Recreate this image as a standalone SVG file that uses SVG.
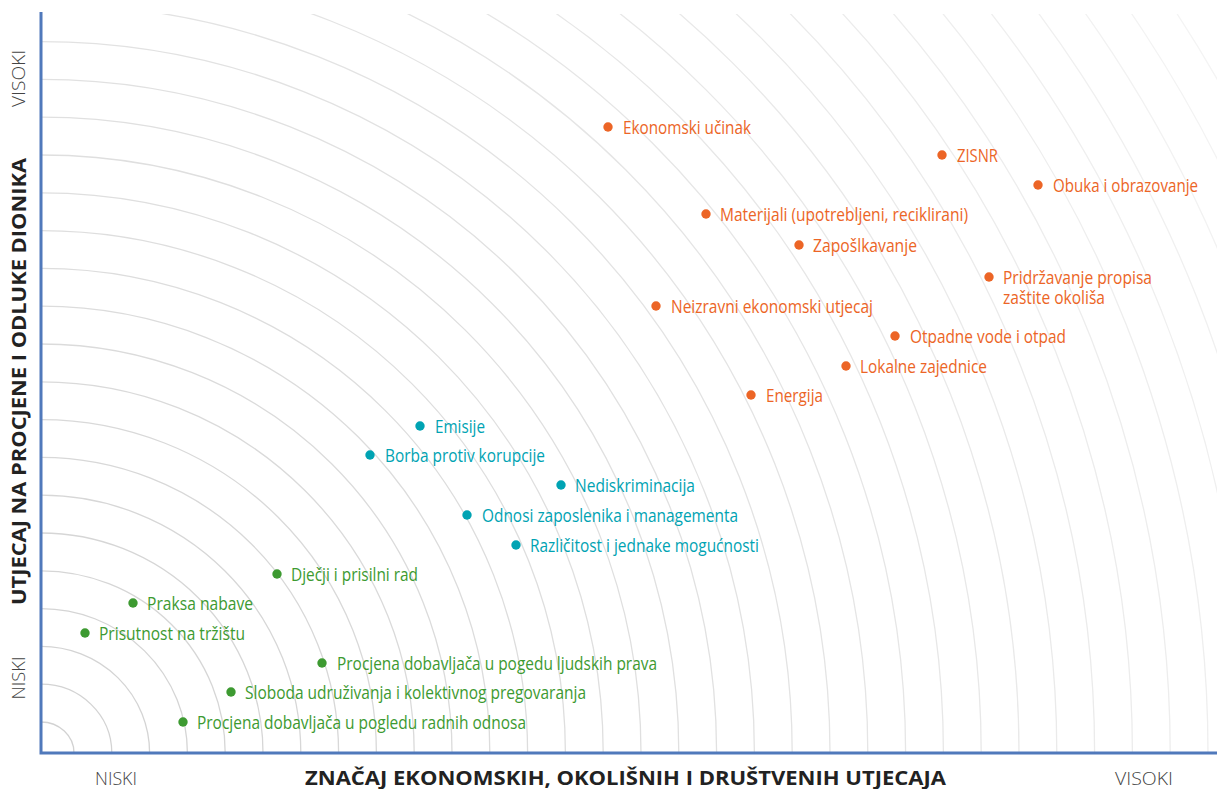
<svg xmlns="http://www.w3.org/2000/svg" width="1217" height="789" viewBox="0 0 1217 789">
<style>
.arc{fill:none;stroke-width:1.3}
.lbl{font-family:"Open Sans","Liberation Sans",sans-serif;font-size:18px}
.o{fill:#ec6526}
.t{fill:#00a3b3}
.g{fill:#3d9a31}
.ax{font-family:"Open Sans","Liberation Sans",sans-serif;font-size:18px;font-weight:300;fill:#444}
.ttl{font-family:"Open Sans","Liberation Sans",sans-serif;font-size:20px;font-weight:700;fill:#222}
.axis{stroke:#5079bb;stroke-width:3;fill:none}
</style>
<defs>
<clipPath id="plot"><rect x="41" y="14" width="1176" height="739"/></clipPath>
</defs>
<rect width="1217" height="789" fill="#fff"/>
<g id="arcs" clip-path="url(#plot)">
<path class="arc" stroke="#d2d2d2" d="M74 753A33 31 0 0 0 41 722"/>
<path class="arc" stroke="#d3d3d3" d="M111.8 753A70.8 68.8 0 0 0 41 684.2"/>
<path class="arc" stroke="#d4d4d4" d="M149.6 753A108.6 106.6 0 0 0 41 646.4"/>
<path class="arc" stroke="#d5d5d5" d="M187.4 753A146.4 144.4 0 0 0 41 608.6"/>
<path class="arc" stroke="#d6d6d6" d="M225.2 753A184.2 182.2 0 0 0 41 570.8"/>
<path class="arc" stroke="#d6d6d6" d="M263 753A222 220 0 0 0 41 533"/>
<path class="arc" stroke="#d7d7d7" d="M300.8 753A259.8 257.8 0 0 0 41 495.2"/>
<path class="arc" stroke="#d8d8d8" d="M338.6 753A297.6 295.6 0 0 0 41 457.4"/>
<path class="arc" stroke="#d9d9d9" d="M376.4 753A335.4 333.4 0 0 0 41 419.6"/>
<path class="arc" stroke="#dadada" d="M414.2 753A373.2 371.2 0 0 0 41 381.8"/>
<path class="arc" stroke="#dbdbdb" d="M452 753A411 409 0 0 0 41 344"/>
<path class="arc" stroke="#dcdcdc" d="M489.8 753A448.8 446.8 0 0 0 41 306.2"/>
<path class="arc" stroke="#dddddd" d="M527.6 753A486.6 484.6 0 0 0 41 268.4"/>
<path class="arc" stroke="#dedede" d="M565.4 753A524.4 522.4 0 0 0 41 230.6"/>
<path class="arc" stroke="#dfdfdf" d="M603.2 753A562.2 560.2 0 0 0 41 192.8"/>
<path class="arc" stroke="#dfdfdf" d="M641 753A600 598 0 0 0 41 155"/>
<path class="arc" stroke="#e0e0e0" d="M678.8 753A637.8 635.8 0 0 0 41 117.2"/>
<path class="arc" stroke="#e1e1e1" d="M716.6 753A675.6 673.6 0 0 0 41 79.4"/>
<path class="arc" stroke="#e2e2e2" d="M754.4 753A713.4 711.4 0 0 0 41 41.6"/>
<path class="arc" stroke="#e3e3e3" d="M792.2 753A751.2 749.2 0 0 0 41 3.8"/>
<path class="arc" stroke="#e4e4e4" d="M830 753A789 787 0 0 0 41 -34"/>
<path class="arc" stroke="#e5e5e5" d="M867.8 753A826.8 824.8 0 0 0 41 -71.8"/>
<path class="arc" stroke="#e6e6e6" d="M905.6 753A864.6 862.6 0 0 0 41 -109.6"/>
<path class="arc" stroke="#e7e7e7" d="M943.4 753A902.4 900.4 0 0 0 41 -147.4"/>
<path class="arc" stroke="#e8e8e8" d="M981.2 753A940.2 938.2 0 0 0 41 -185.2"/>
<path class="arc" stroke="#e9e9e9" d="M1019 753A978 976 0 0 0 41 -223"/>
<path class="arc" stroke="#eaeaea" d="M1056.8 753A1015.8 1013.8 0 0 0 41 -260.8"/>
<path class="arc" stroke="#ebebeb" d="M1094.6 753A1053.6 1051.6 0 0 0 41 -298.6"/>
<path class="arc" stroke="#ececec" d="M1132.4 753A1091.4 1089.4 0 0 0 41 -336.4"/>
<path class="arc" stroke="#ededed" d="M1170.2 753A1129.2 1127.2 0 0 0 41 -374.2"/>
<path class="arc" stroke="#eeeeee" d="M1208 753A1167 1165 0 0 0 41 -412"/>
<path class="arc" stroke="#efefef" d="M1245.8 753A1204.8 1202.8 0 0 0 41 -449.8"/>
<path class="arc" stroke="#f0f0f0" d="M1283.6 753A1242.6 1240.6 0 0 0 41 -487.6"/>
<path class="arc" stroke="#f2f2f2" d="M1321.4 753A1280.4 1278.4 0 0 0 41 -525.4"/>
<path class="arc" stroke="#f3f3f3" d="M1359.2 753A1318.2 1316.2 0 0 0 41 -563.2"/>
<path class="arc" stroke="#f4f4f4" d="M1397 753A1356 1354 0 0 0 41 -601"/>
<path class="arc" stroke="#f5f5f5" d="M1434.8 753A1393.8 1391.8 0 0 0 41 -638.8"/>
</g>
<g id="axes">
<path class="axis" d="M41 12V753H1217"/>
</g>
<g id="axis-labels">
<text class="ax" transform="translate(25 78.5) rotate(-90)" text-anchor="middle" textLength="57" lengthAdjust="spacingAndGlyphs">VISOKI</text>
<text class="ax" transform="translate(25 678) rotate(-90)" text-anchor="middle" textLength="43" lengthAdjust="spacingAndGlyphs">NISKI</text>
<text class="ax" x="95" y="785" textLength="42" lengthAdjust="spacingAndGlyphs">NISKI</text>
<text class="ax" x="1115" y="785" textLength="58" lengthAdjust="spacingAndGlyphs">VISOKI</text>
<text class="ttl" transform="translate(25.5 605) rotate(-90)" textLength="447" lengthAdjust="spacingAndGlyphs">UTJECAJ NA PROCJENE I ODLUKE DIONIKA</text>
<text class="ttl" x="305" y="785" textLength="641" lengthAdjust="spacingAndGlyphs">ZNAČAJ EKONOMSKIH, OKOLIŠNIH I DRUŠTVENIH UTJECAJA</text>
</g>
<g id="n-ekonomski" class="o"><circle cx="608" cy="127" r="4.7"/><text class="lbl" x="623" y="133.5" textLength="128" lengthAdjust="spacingAndGlyphs">Ekonomski učinak</text></g>
<g id="n-zisnr" class="o"><circle cx="942" cy="155" r="4.7"/><text class="lbl" x="957" y="161.5" textLength="41" lengthAdjust="spacingAndGlyphs">ZISNR</text></g>
<g id="n-obuka" class="o"><circle cx="1038" cy="185" r="4.7"/><text class="lbl" x="1053" y="191.5" textLength="145" lengthAdjust="spacingAndGlyphs">Obuka i obrazovanje</text></g>
<g id="n-materijali" class="o"><circle cx="706" cy="214" r="4.7"/><text class="lbl" x="720" y="220.5" textLength="248" lengthAdjust="spacingAndGlyphs">Materijali (upotrebljeni, reciklirani)</text></g>
<g id="n-zaposlkavanje" class="o"><circle cx="799" cy="245" r="4.7"/><text class="lbl" x="813" y="251.5" textLength="104" lengthAdjust="spacingAndGlyphs">Zapošlkavanje</text></g>
<g id="n-pridrzavanje" class="o"><circle cx="989" cy="277" r="4.7"/><text class="lbl" x="1003" y="283.5" textLength="149" lengthAdjust="spacingAndGlyphs">Pridržavanje propisa</text><text class="lbl" x="1003" y="303.5" textLength="102" lengthAdjust="spacingAndGlyphs">zaštite okoliša</text></g>
<g id="n-neizravni" class="o"><circle cx="656" cy="306" r="4.7"/><text class="lbl" x="671" y="312.5" textLength="202" lengthAdjust="spacingAndGlyphs">Neizravni ekonomski utjecaj</text></g>
<g id="n-otpadne" class="o"><circle cx="895" cy="336" r="4.7"/><text class="lbl" x="910" y="342.5" textLength="156" lengthAdjust="spacingAndGlyphs">Otpadne vode i otpad</text></g>
<g id="n-lokalne" class="o"><circle cx="846" cy="366" r="4.7"/><text class="lbl" x="860" y="372.5" textLength="127" lengthAdjust="spacingAndGlyphs">Lokalne zajednice</text></g>
<g id="n-energija" class="o"><circle cx="751" cy="395" r="4.7"/><text class="lbl" x="766" y="401.5" textLength="57" lengthAdjust="spacingAndGlyphs">Energija</text></g>
<g id="n-emisije" class="t"><circle cx="420" cy="426" r="4.7"/><text class="lbl" x="435" y="432.5" textLength="50" lengthAdjust="spacingAndGlyphs">Emisije</text></g>
<g id="n-borba" class="t"><circle cx="370" cy="455" r="4.7"/><text class="lbl" x="385" y="461.5" textLength="160" lengthAdjust="spacingAndGlyphs">Borba protiv korupcije</text></g>
<g id="n-nediskriminacija" class="t"><circle cx="561" cy="485" r="4.7"/><text class="lbl" x="575" y="491.5" textLength="120" lengthAdjust="spacingAndGlyphs">Nediskriminacija</text></g>
<g id="n-odnosi" class="t"><circle cx="467" cy="515" r="4.7"/><text class="lbl" x="482" y="521.5" textLength="256" lengthAdjust="spacingAndGlyphs">Odnosi zaposlenika i managementa</text></g>
<g id="n-razlicitost" class="t"><circle cx="516" cy="545" r="4.7"/><text class="lbl" x="530" y="551.5" textLength="229" lengthAdjust="spacingAndGlyphs">Različitost i jednake mogućnosti</text></g>
<g id="n-djecji" class="g"><circle cx="277" cy="574" r="4.7"/><text class="lbl" x="291" y="580.5" textLength="127" lengthAdjust="spacingAndGlyphs">Dječji i prisilni rad</text></g>
<g id="n-praksa" class="g"><circle cx="133" cy="603" r="4.7"/><text class="lbl" x="147" y="609.5" textLength="106" lengthAdjust="spacingAndGlyphs">Praksa nabave</text></g>
<g id="n-prisutnost" class="g"><circle cx="85" cy="633" r="4.7"/><text class="lbl" x="99" y="639.5" textLength="146" lengthAdjust="spacingAndGlyphs">Prisutnost na tržištu</text></g>
<g id="n-procjena-ljudska" class="g"><circle cx="322" cy="663" r="4.7"/><text class="lbl" x="337" y="669.5" textLength="320" lengthAdjust="spacingAndGlyphs">Procjena dobavljača u pogedu ljudskih prava</text></g>
<g id="n-sloboda" class="g"><circle cx="231" cy="692" r="4.7"/><text class="lbl" x="245" y="698.5" textLength="341" lengthAdjust="spacingAndGlyphs">Sloboda udruživanja i kolektivnog pregovaranja</text></g>
<g id="n-procjena-radni" class="g"><circle cx="183" cy="722" r="4.7"/><text class="lbl" x="197" y="728.5" textLength="329" lengthAdjust="spacingAndGlyphs">Procjena dobavljača u pogledu radnih odnosa</text></g>
</svg>
